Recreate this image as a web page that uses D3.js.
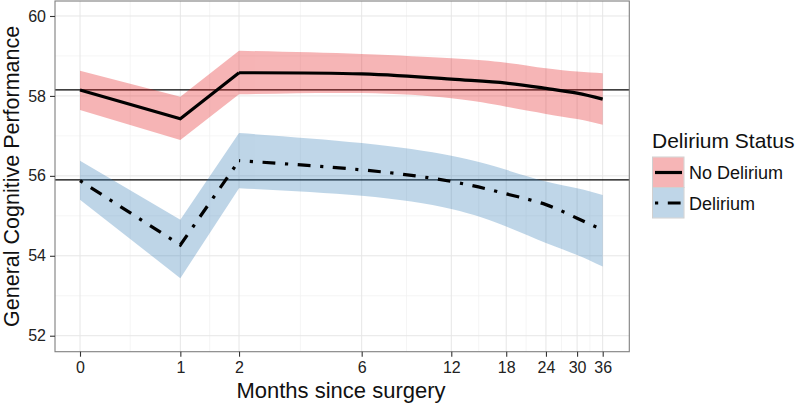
<!DOCTYPE html>
<html><head><meta charset="utf-8">
<script src="https://cdn.jsdelivr.net/npm/d3@7"></script>
<style>body{margin:0;background:#fff}svg{display:block;font-family:Arial,"Liberation Sans",sans-serif}</style>
</head><body><svg id="c" width="800" height="404"></svg>
<script>
const months = [0, 1, 2, 6, 12, 18, 24, 30, 36];
const noDelirium      = [58.15, 57.43, 58.58, 58.55, 58.42, 58.32, 58.19, 58.07, 57.92];
const noDeliriumLower = [57.65, 56.90, 58.04, 58.07, 57.94, 57.73, 57.55, 57.42, 57.28];
const noDeliriumUpper = [58.63, 57.98, 59.13, 59.05, 58.94, 58.83, 58.69, 58.61, 58.57];
const delirium        = [55.88, 54.27, 56.38, 56.15, 55.86, 55.55, 55.28, 54.94, 54.65];
const deliriumLower   = [55.40, 53.44, 55.69, 55.50, 55.17, 54.73, 54.32, 54.02, 53.73];
const deliriumUpper   = [56.38, 54.90, 57.07, 56.82, 56.50, 56.15, 55.86, 55.69, 55.52];
const refLines = [58.15, 55.90];
const yTicks = [52, 54, 56, 58, 60];
const yMinor = [53, 55, 57, 59];
const seriesNames = ["No Delirium", "Delirium"];

const svg = d3.select("#c");
const P = {l: 55, r: 629.3, t: 1, b: 351.7};
const x = d3.scaleSymlog().constant(1).domain([0, 36]).range([80, 602.7]);
const y = d3.scaleLinear().domain([51.6, 60.375]).range([P.b, P.t]);
const smooth = d3.curveNatural;

// grid
const g = svg.append("g");
const xMinor = [];
for (let i = 0; i < months.length - 1; i++) xMinor.push((x(months[i]) + x(months[i+1])) / 2);
g.selectAll(".xmn").data(xMinor).enter().append("line")
  .attr("x1", d => d).attr("x2", d => d).attr("y1", P.t).attr("y2", P.b)
  .attr("stroke", "#f3f3f3").attr("stroke-width", 0.8);
g.selectAll(".ymn").data(yMinor).enter().append("line")
  .attr("x1", P.l).attr("x2", P.r).attr("y1", d => y(d)).attr("y2", d => y(d))
  .attr("stroke", "#f3f3f3").attr("stroke-width", 0.8);
g.selectAll(".xmj").data(months).enter().append("line")
  .attr("x1", d => x(d)).attr("x2", d => x(d)).attr("y1", P.t).attr("y2", P.b)
  .attr("stroke", "#e6e6e6").attr("stroke-width", 1);
g.selectAll(".ymj").data(yTicks).enter().append("line")
  .attr("x1", P.l).attr("x2", P.r).attr("y1", d => y(d)).attr("y2", d => y(d))
  .attr("stroke", "#e6e6e6").attr("stroke-width", 1);

// reference lines
svg.selectAll(".ref").data(refLines).enter().append("line")
  .attr("x1", P.l).attr("x2", P.r).attr("y1", d => y(d)).attr("y2", d => y(d))
  .attr("stroke", "#000").attr("stroke-width", 1.4);

function pts(vals) { return months.map((m, i) => [x(m), y(vals[i])]); }
function ribbon(lo, hi, color) {
  const gr = svg.append("g").attr("opacity", 0.32);
  const a1 = d3.area().x(d => x(d.m)).y0(d => y(d.lo)).y1(d => y(d.hi)).curve(d3.curveLinear);
  const a2 = d3.area().x(d => x(d.m)).y0(d => y(d.lo)).y1(d => y(d.hi)).curve(smooth);
  const data = months.map((m, i) => ({m, lo: lo[i], hi: hi[i]}));
  gr.append("path").attr("d", a1(data.slice(0, 3))).attr("fill", color);
  gr.append("path").attr("d", a2(data.slice(2))).attr("fill", color);
}
ribbon(noDeliriumLower, noDeliriumUpper, "#E41A1C");
ribbon(deliriumLower, deliriumUpper, "#377EB8");

function series(vals, dash) {
  const p = pts(vals);
  const l1 = d3.line().curve(d3.curveLinear), l2 = d3.line().curve(smooth);
  const a = svg.append("path").attr("d", l1(p.slice(0, 3))).attr("fill", "none")
    .attr("stroke", "#000").attr("stroke-width", 3.2);
  const b = svg.append("path").attr("d", l2(p.slice(2))).attr("fill", "none")
    .attr("stroke", "#000").attr("stroke-width", 3.2);
  if (dash) {
    a.attr("stroke-dasharray", dash);
    b.attr("stroke-dasharray", dash).attr("stroke-dashoffset", -a.node().getTotalLength());
  }
}
series(noDelirium, null);
series(delirium, "3.2 9.6 12.8 9.6");

// panel border
svg.append("rect").attr("x", P.l).attr("y", P.t).attr("width", P.r - P.l).attr("height", P.b - P.t)
  .attr("fill", "none").attr("stroke", "#7f7f7f").attr("stroke-width", 1.1);

// axes
const xa = svg.append("g").attr("transform", `translate(0,${P.b})`)
  .call(d3.axisBottom(x).tickValues(months).tickSize(5).tickPadding(5).tickFormat(d3.format("d")));
const ya = svg.append("g").attr("transform", `translate(${P.l},0)`)
  .call(d3.axisLeft(y).tickValues(yTicks).tickSize(5).tickPadding(4).tickFormat(d3.format("d")));
[xa, ya].forEach(a => {
  a.select(".domain").remove();
  a.selectAll(".tick line").attr("stroke", "#333").attr("stroke-width", 1.1);
  a.selectAll(".tick text").attr("fill", "#222").style("font-size", "16px").style("font-family", "Arial, 'Liberation Sans', sans-serif");
});

svg.append("text").attr("x", 341).attr("y", 398).attr("text-anchor", "middle")
  .style("font-size", "22px").attr("fill", "#111").text("Months since surgery");
svg.append("text").attr("transform", `translate(19,${(P.t + P.b) / 2}) rotate(-90)`).attr("text-anchor", "middle")
  .style("font-size", "21.5px").attr("fill", "#111").text("General Cognitive Performance");

// legend
const lg = svg.append("g");
lg.append("text").attr("x", 652).attr("y", 148).style("font-size", "21px").attr("fill", "#111").text("Delirium Status");
const keys = [{c: "#E41A1C", dash: null, y: 157}, {c: "#377EB8", dash: "3.2 9.6 12.8 9.6", y: 187.5}];
keys.forEach((k, i) => {
  lg.append("rect").attr("x", 652.5).attr("y", k.y).attr("width", 31.5).attr("height", 30.5)
    .attr("fill", "#fff").attr("stroke", "#d0d0d0").attr("stroke-width", 1);
  lg.append("rect").attr("x", 653).attr("y", k.y + 0.5).attr("width", 30.5).attr("height", 29.5)
    .attr("fill", k.c).attr("opacity", 0.32);
  const ln = lg.append("line").attr("x1", 655).attr("x2", 682).attr("y1", k.y + 15.5).attr("y2", k.y + 15.5)
    .attr("stroke", "#000").attr("stroke-width", 3.2);
  if (k.dash) ln.attr("stroke-dasharray", k.dash);
  lg.append("text").attr("x", 689).attr("y", k.y + 22).style("font-size", "18px").attr("fill", "#111").text(seriesNames[i]);
});
</script></body></html>
